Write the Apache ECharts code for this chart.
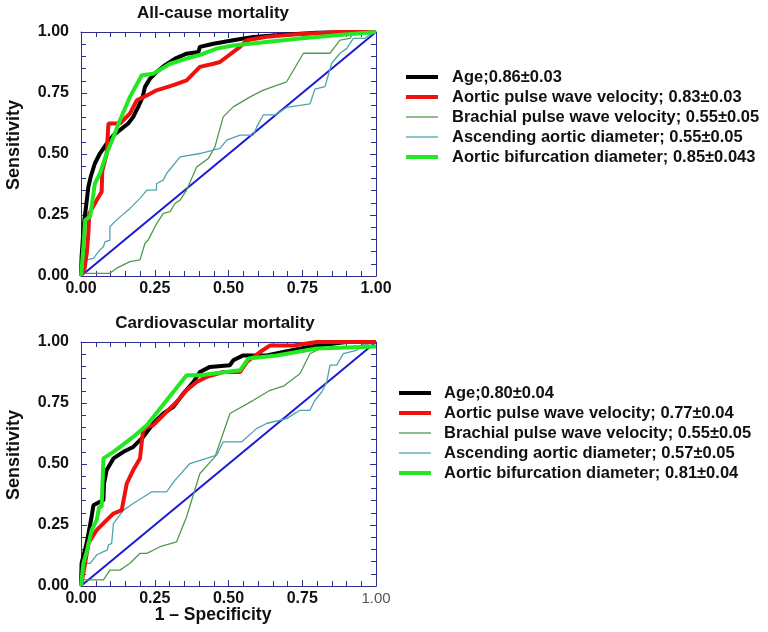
<!DOCTYPE html>
<html>
<head>
<meta charset="utf-8">
<script src="https://cdn.jsdelivr.net/npm/echarts@6/dist/echarts.min.js"></script>
<style>html,body{margin:0;padding:0;background:#fff;}#c{width:768px;height:632px;}</style>
</head>
<body>
<div id="c"></div>
<script>
// ---------- DATA ----------
const panelTitles = ['All-cause mortality', 'Cardiovascular mortality'];
const xAxisTitle = '1 \u2013 Specificity';
const yAxisTitle = 'Sensitivity';

const namesAll = [
  'Age;0.86\u00b10.03',
  'Aortic pulse wave velocity; 0.83\u00b10.03',
  'Brachial pulse wave velocity; 0.55\u00b10.05',
  'Ascending aortic diameter; 0.55\u00b10.05',
  'Aortic bifurcation diameter; 0.85\u00b10.043'
];
const namesCv = [
  'Age;0.80\u00b10.04',
  'Aortic pulse wave velocity; 0.77\u00b10.04',
  'Brachial pulse wave velocity; 0.55\u00b10.05',
  'Ascending aortic diameter; 0.57\u00b10.05',
  'Aortic bifurcation diameter; 0.81\u00b10.04'
];

const diagonal = [[0, 0], [1, 1]];

// All-cause mortality ROC curves [1-specificity, sensitivity]
const allAge = [[0,0],[0.002,0.079],[0.006,0.147],[0.010,0.216],[0.017,0.284],[0.025,0.366],[0.033,0.407],[0.047,0.461],[0.064,0.502],[0.087,0.543],[0.110,0.577],[0.138,0.604],[0.160,0.625],[0.177,0.652],[0.194,0.693],[0.209,0.734],[0.217,0.775],[0.234,0.809],[0.256,0.836],[0.285,0.864],[0.319,0.891],[0.358,0.911],[0.398,0.918],[0.403,0.939],[0.449,0.952],[0.516,0.966],[0.584,0.980],[0.686,0.989],[0.799,0.997],[1,1]];
const allAorticPwv = [[0,0],[0.012,0.03],[0.020,0.10],[0.025,0.175],[0.028,0.256],[0.053,0.31],[0.070,0.345],[0.072,0.43],[0.087,0.50],[0.093,0.625],[0.132,0.625],[0.166,0.666],[0.189,0.72],[0.223,0.74],[0.256,0.761],[0.313,0.782],[0.358,0.802],[0.403,0.857],[0.449,0.870],[0.471,0.877],[0.539,0.939],[0.562,0.966],[0.629,0.98],[0.72,0.99],[0.87,1.0],[1,1]];
const allBrachialPwv = [[0,0],[0.002,0.011],[0.098,0.011],[0.121,0.032],[0.166,0.059],[0.200,0.066],[0.217,0.134],[0.228,0.148],[0.257,0.216],[0.279,0.257],[0.302,0.264],[0.319,0.298],[0.336,0.311],[0.358,0.352],[0.392,0.447],[0.432,0.482],[0.454,0.529],[0.482,0.652],[0.516,0.693],[0.575,0.735],[0.618,0.762],[0.697,0.796],[0.754,0.913],[0.844,0.913],[0.878,0.967],[0.912,0.974],[0.922,0.996],[1,1]];
const allAscending = [[0,0],[0.010,0.065],[0.019,0.066],[0.042,0.072],[0.064,0.107],[0.076,0.12],[0.081,0.14],[0.098,0.147],[0.098,0.202],[0.121,0.23],[0.166,0.277],[0.200,0.318],[0.223,0.352],[0.256,0.352],[0.256,0.379],[0.279,0.393],[0.290,0.42],[0.336,0.488],[0.403,0.502],[0.471,0.523],[0.494,0.557],[0.539,0.577],[0.584,0.577],[0.596,0.612],[0.618,0.66],[0.658,0.66],[0.697,0.691],[0.776,0.705],[0.793,0.766],[0.827,0.776],[0.850,0.872],[0.878,0.913],[0.901,0.933],[0.923,0.974],[0.963,0.974],[0.99,1.0],[1,1]];
const allBifurcation = [[0,0],[0.003,0.04],[0.010,0.15],[0.014,0.229],[0.031,0.243],[0.047,0.379],[0.064,0.42],[0.087,0.502],[0.110,0.57],[0.132,0.638],[0.166,0.734],[0.206,0.823],[0.245,0.829],[0.302,0.870],[0.358,0.891],[0.415,0.911],[0.46,0.932],[0.516,0.945],[0.629,0.959],[0.742,0.973],[0.855,0.986],[1,1]];

// Cardiovascular mortality ROC curves
const cvAge = [[0,0],[0.002,0.093],[0.019,0.175],[0.036,0.284],[0.042,0.331],[0.064,0.345],[0.076,0.352],[0.078,0.42],[0.087,0.475],[0.110,0.523],[0.144,0.55],[0.177,0.57],[0.211,0.611],[0.245,0.666],[0.279,0.707],[0.313,0.734],[0.330,0.761],[0.347,0.789],[0.381,0.836],[0.403,0.877],[0.437,0.898],[0.505,0.905],[0.516,0.925],[0.55,0.945],[0.629,0.945],[0.686,0.959],[0.799,0.986],[0.90,1.0],[1,1]];
const cvAorticPwv = [[0,0],[0.014,0.093],[0.025,0.175],[0.053,0.229],[0.087,0.27],[0.110,0.297],[0.138,0.311],[0.155,0.42],[0.177,0.475],[0.200,0.523],[0.211,0.645],[0.245,0.659],[0.290,0.714],[0.324,0.754],[0.358,0.802],[0.392,0.836],[0.426,0.857],[0.482,0.877],[0.539,0.877],[0.562,0.918],[0.607,0.959],[0.641,0.986],[0.72,0.986],[0.799,1.0],[1,1]];
const cvBrachialPwv = [[0,0],[0.008,0.025],[0.076,0.025],[0.098,0.065],[0.132,0.065],[0.166,0.093],[0.200,0.134],[0.223,0.134],[0.268,0.161],[0.324,0.181],[0.358,0.284],[0.403,0.461],[0.454,0.529],[0.505,0.707],[0.584,0.761],[0.641,0.802],[0.686,0.819],[0.742,0.87],[0.776,0.952],[0.81,0.973],[0.90,0.98],[0.946,0.98],[0.968,1.0],[1,1]];
const cvAscending = [[0,0],[0.014,0.093],[0.031,0.093],[0.053,0.127],[0.076,0.141],[0.089,0.147],[0.093,0.168],[0.104,0.175],[0.110,0.256],[0.144,0.311],[0.177,0.338],[0.240,0.386],[0.290,0.386],[0.319,0.434],[0.369,0.502],[0.460,0.536],[0.482,0.591],[0.545,0.591],[0.595,0.645],[0.629,0.666],[0.697,0.686],[0.742,0.72],[0.776,0.72],[0.793,0.761],[0.816,0.795],[0.833,0.836],[0.844,0.905],[0.867,0.905],[0.889,0.952],[0.934,0.966],[0.957,0.986],[1,1]];
const cvBifurcation = [[0,0],[0.008,0.093],[0.021,0.147],[0.036,0.229],[0.053,0.27],[0.062,0.325],[0.070,0.325],[0.076,0.523],[0.110,0.55],[0.177,0.611],[0.223,0.659],[0.358,0.864],[0.403,0.864],[0.539,0.884],[0.567,0.932],[0.663,0.945],[0.799,0.973],[1,0.982]];

// ---------- STYLE ----------
const FONT = '"Liberation Sans", Arial, sans-serif';
const frameColor = '#2e2e8e';
const curveStyles = [
  {color: '#000000', width: 4},
  {color: '#ee1111', width: 4},
  {color: '#4f9a4f', width: 1.3},
  {color: '#4fa3ad', width: 1.3},
  {color: '#22e822', width: 4}
];
const drawOrder = [2, 3, 0, 1, 4];

const grids = [
  {left: 81, top: 32, width: 295, height: 244},
  {left: 81, top: 342, width: 295, height: 244}
];

const chart = echarts.init(document.getElementById('c'), null, {renderer: 'canvas'});

function makeX(gi, pos) {
  const main = pos === 'bottom';
  return {
    type: 'value', gridIndex: gi, position: pos, min: 0, max: 1, interval: 0.25,
    axisLine: {show: true, onZero: false, lineStyle: {color: frameColor, width: 1}},
    axisTick: {show: true, inside: true, length: 6, lineStyle: {color: frameColor}},
    minorTick: {show: true, splitNumber: 5, length: 5, lineStyle: {color: frameColor}},
    splitLine: {show: false},
    axisLabel: main ? {
      show: true, margin: 5, fontFamily: FONT, fontSize: 16, fontWeight: 'bold', color: '#111',
      formatter: function (v) {
        const s = v.toFixed(2);
        return (gi === 1 && v === 1) ? '{lite|' + s + '}' : s;
      },
      rich: {lite: {fontFamily: FONT, fontSize: 15, fontWeight: 'normal', color: '#555'}}
    } : {show: false}
  };
}
function makeY(gi, pos) {
  const main = pos === 'left';
  return {
    type: 'value', gridIndex: gi, position: pos, min: 0, max: 1, interval: 0.25,
    name: main ? yAxisTitle : '', nameLocation: 'middle', nameGap: 58,
    nameTextStyle: {fontFamily: FONT, fontSize: 18, fontWeight: 'bold', color: '#111', padding: [0, 0, 0, 18]},
    axisLine: {show: true, onZero: false, lineStyle: {color: frameColor, width: 1}},
    axisTick: {show: true, inside: true, length: 6, lineStyle: {color: frameColor}},
    minorTick: {show: true, splitNumber: 5, length: 5, lineStyle: {color: frameColor}},
    splitLine: {show: false},
    axisLabel: main ? {
      show: true, margin: 12, fontFamily: FONT, fontSize: 16, fontWeight: 'bold', color: '#111',
      formatter: function (v) { return v.toFixed(2); }
    } : {show: false}
  };
}

const xAxes = [makeX(0, 'bottom'), makeX(0, 'top'), makeX(1, 'bottom'), makeX(1, 'top')];
const yAxes = [makeY(0, 'left'), makeY(0, 'right'), makeY(1, 'left'), makeY(1, 'right')];

const panels = [
  {names: namesAll, curves: [allAge, allAorticPwv, allBrachialPwv, allAscending, allBifurcation]},
  {names: namesCv, curves: [cvAge, cvAorticPwv, cvBrachialPwv, cvAscending, cvBifurcation]}
];

const series = [];
panels.forEach(function (p, gi) {
  series.push({
    type: 'line', xAxisIndex: gi * 2, yAxisIndex: gi * 2, data: diagonal,
    symbol: 'none', silent: true, lineStyle: {color: '#1a1ad6', width: 2}, z: 2
  });
  drawOrder.forEach(function (k, j) {
    series.push({
      name: p.names[k], type: 'line', xAxisIndex: gi * 2, yAxisIndex: gi * 2,
      data: p.curves[k], symbol: 'none', smooth: false,
      lineStyle: {color: curveStyles[k].color, width: curveStyles[k].width},
      itemStyle: {color: curveStyles[k].color},
      z: 3 + j
    });
  });
});

function makeLegend(names, left, top, textPad) {
  return {
    data: names.map(function (n, k) {
      return {
        name: n,
        itemStyle: {opacity: 0},
        lineStyle: {color: curveStyles[k].color, width: curveStyles[k].width, opacity: 1}
      };
    }),
    orient: 'vertical', left: left, top: top, padding: 0,
    itemWidth: 32, itemHeight: 14, itemGap: 2,
    selectedMode: false,
    itemStyle: {opacity: 0},
    textStyle: {fontFamily: FONT, fontSize: 16.5, fontWeight: 'bold', color: '#111', padding: [0, 0, 0, textPad], lineHeight: 18}
  };
}

chart.setOption({
  animation: false,
  backgroundColor: '#ffffff',
  title: [
    {text: panelTitles[0], left: 208, top: 0, textAlign: 'center', textStyle: {fontFamily: FONT, fontSize: 17, fontWeight: 'bold', color: '#111'}},
    {text: panelTitles[1], left: 210, top: 310, textAlign: 'center', textStyle: {fontFamily: FONT, fontSize: 17, fontWeight: 'bold', color: '#111'}},
    {text: xAxisTitle, left: 208, top: 601, textAlign: 'center', textStyle: {fontFamily: FONT, fontSize: 17.5, fontWeight: 'bold', color: '#111'}}
  ],
  grid: grids.map(function (g) { return Object.assign({show: false, containLabel: false}, g); }),
  xAxis: xAxes,
  yAxis: yAxes,
  legend: [makeLegend(namesAll, 404, 68, 9), makeLegend(namesCv, 397, 384, 8)],
  series: series
});
</script>
</body>
</html>
